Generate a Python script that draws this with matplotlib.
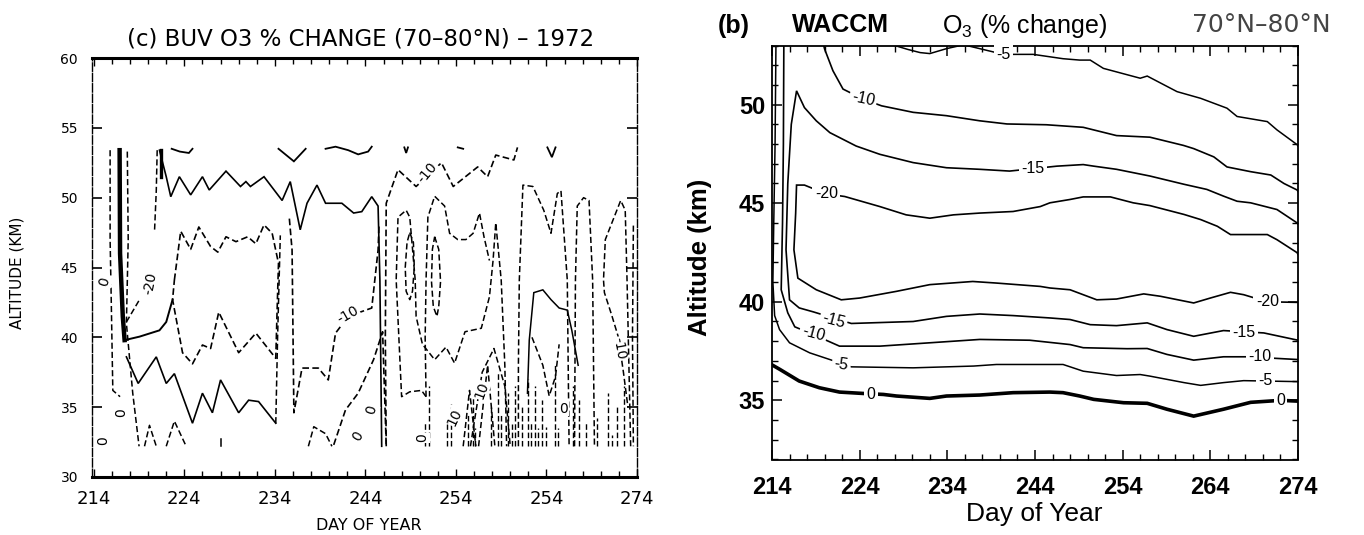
import matplotlib
matplotlib.use("Agg")
import matplotlib.pyplot as plt
from matplotlib.ticker import MultipleLocator, FixedLocator, FixedFormatter

plt.rcParams['mathtext.fontset'] = 'custom'
plt.rcParams['mathtext.rm'] = 'Liberation Sans'
plt.rcParams['mathtext.it'] = 'Liberation Sans:italic'
plt.rcParams['mathtext.bf'] = 'Liberation Sans:bold'

# ======================= DATA =======================
# ---------- Panel (c): BUV O3 % change, 1972 ----------
buv_xticks = [214, 224, 234, 244, 254, 264, 274]
buv_xticklabels = ["214", "224", "234", "244", "254", "254", "274"]
buv_yticks = [30, 35, 40, 45, 50, 55, 60]

buv_top1_day = [222.6, 223.5, 224.5, 224.9]
buv_top1_alt = [53.5, 53.3, 53.2, 53.5]
buv_top2_day = [234.4, 236.1, 237.4]
buv_top2_alt = [53.5, 52.6, 53.5]
buv_top3_day = [239.6, 240.7, 242.1, 243.2, 244.3, 244.7]
buv_top3_alt = [53.5, 53.65, 53.4, 53.1, 53.3, 53.65]
buv_top4_day = [248.3, 248.5, 248.7]
buv_top4_alt = [53.6, 53.2, 53.6]
buv_top5_day = [254.2, 254.8]
buv_top5_alt = [53.6, 53.5]
buv_top6_day = [264.1, 264.6, 265.0]
buv_top6_alt = [53.6, 52.9, 53.6]

buv_upper_day = [221.25, 222.0, 222.5, 223.45, 224.7, 226.0, 226.75, 228.6, 230.2, 230.8,
                 231.3, 232.8, 234.8, 235.7, 236.8, 237.55, 238.65, 239.6, 241.4, 242.7,
                 243.6, 244.7, 245.4, 245.6, 245.8]
buv_upper_alt = [53.4, 51.5, 50.07, 51.5, 50.2, 51.5, 50.55, 51.9, 50.8, 51.15,
                 50.8, 51.5, 49.8, 51.15, 47.7, 49.6, 50.9, 49.6, 49.6, 48.9,
                 49.0, 50.07, 49.4, 44.1, 32.2]

buv_upper2_day = [246.3, 246.2, 246.3, 247.6, 249.6, 252.4, 253.7, 256.4, 257.5, 258.4, 260.4, 260.8]
buv_upper2_alt = [32.2, 40.0, 49.6, 52.0, 50.8, 52.5, 50.8, 52.2, 51.5, 53.05, 52.7, 53.6]

buv_loop20_day = [222.9, 223.6, 224.7, 225.6, 226.9, 227.7, 228.6, 229.7, 231.0, 231.9, 232.8,
                  233.7, 234.4, 234.25, 234.1, 231.9, 230.0, 227.8, 226.9, 226.0, 224.9,
                  223.8, 222.7, 222.9]
buv_loop20_alt = [44.1, 47.6, 46.3, 47.9, 46.5, 46.1, 47.2, 46.85, 47.2, 46.7, 48.05,
                  47.45, 45.3, 42.0, 38.5, 40.3, 38.9, 41.8, 39.2, 39.45, 38.1,
                  38.9, 42.7, 44.1]

buv_m20_day = [217.4, 219.05, 221.25, 222.0, 222.7]
buv_m20_alt = [39.8, 40.05, 40.5, 41.1, 42.7]
buv_m20b_day = [217.6, 219.05]
buv_m20b_alt = [41.1, 42.7]

buv_lower_day = [217.6, 218.9, 220.9, 222.0, 222.9, 224.9, 226.0, 227.1, 228.0, 230.0,
                 231.1, 232.2, 234.1]
buv_lower_alt = [38.6, 36.7, 38.6, 36.7, 37.4, 33.85, 36.0, 34.6, 36.95, 34.6,
                 35.5, 35.4, 33.85]
buv_v1_day = [234.1, 234.3, 234.6]
buv_v1_alt = [33.85, 40.0, 47.3]

buv_m10_day = [235.6, 235.9, 236.1, 237.0, 238.8, 239.9, 240.7, 242.1, 244.7, 245.4, 245.5]
buv_m10_alt = [48.5, 46.25, 34.6, 37.8, 37.8, 36.95, 40.3, 41.5, 42.1, 46.25, 48.0]

buv_bump_day = [237.7, 238.3, 239.6, 240.3]
buv_bump_alt = [32.2, 33.6, 33.1, 32.2]
buv_rise_day = [240.5, 241.8, 243.2, 244.9, 245.9, 246.3]
buv_rise_alt = [32.3, 34.8, 36.0, 38.4, 40.4, 32.2]

buv_thick_day = [216.85, 216.9, 217.2, 217.4]
buv_thick_alt = [53.4, 46.0, 41.5, 39.8]
buv_va_day = [215.8, 215.8, 215.9, 216.1, 216.9]
buv_va_alt = [53.4, 47.0, 43.6, 36.2, 35.75]
buv_vb_day = [217.7, 217.8, 217.6, 218.3, 219.0]
buv_vb_alt = [53.3, 47.0, 41.0, 36.0, 32.2]
buv_vc_day = [221.0, 220.9, 220.7]
buv_vc_alt = [53.4, 50.5, 47.5]
buv_vc2_day = [221.4, 221.4]
buv_vc2_alt = [53.4, 51.5]
buv_b1_day = [219.6, 220.15, 220.9]
buv_b1_alt = [32.2, 33.7, 32.2]
buv_b2_day = [222.0, 222.9, 224.2]
buv_b2_alt = [32.2, 34.0, 32.2]
buv_b3_day = [228.0, 228.0]
buv_b3_alt = [32.2, 32.7]

buv_ra_day = [250.7, 250.2, 248.9, 248.0, 247.4, 247.6, 248.5, 248.9, 249.5, 249.6, 250.3,
              251.65, 252.9, 253.85, 255.0, 256.8, 257.7, 258.1, 258.4, 259.0, 259.4, 259.6]
buv_ra_alt = [35.75, 36.2, 36.1, 35.75, 44.1, 48.6, 49.1, 48.6, 44.1, 41.5, 39.5,
              38.4, 39.3, 38.15, 40.4, 40.65, 42.9, 45.5, 48.2, 44.1, 38.0, 32.2]
buv_rb_day = [250.7, 250.6, 250.7, 250.9, 251.65, 252.75, 253.3, 254.2, 255.1, 255.9, 256.6,
              257.1, 257.7]
buv_rb_alt = [35.75, 40.0, 44.1, 48.6, 50.1, 49.4, 47.45, 47.0, 47.0, 47.45, 48.9,
              47.2, 45.5]
buv_e1_day = [248.9, 249.3, 249.4, 249.2, 248.9, 248.5, 248.4, 248.6, 248.9]
buv_e1_alt = [47.5, 46.8, 45.0, 43.3, 42.7, 43.3, 45.0, 46.8, 47.5]
buv_e2_day = [251.65, 252.1, 252.3, 252.1, 251.9, 251.5, 251.3, 251.4, 251.65]
buv_e2_alt = [47.2, 46.3, 44.0, 42.2, 41.5, 42.2, 44.0, 46.3, 47.2]
buv_g_day = [260.9, 260.9, 261.0, 261.4, 262.5, 263.7, 264.5, 265.2, 265.6, 266.3, 266.4, 266.5]
buv_g_alt = [32.2, 38.0, 44.1, 50.9, 50.8, 49.1, 47.45, 50.3, 50.5, 44.1, 38.0, 32.2]
buv_h_day = [267.1, 267.2, 267.4, 268.1, 268.7, 269.1, 269.2, 269.3]
buv_h_alt = [32.2, 44.1, 49.4, 50.0, 49.8, 44.1, 38.0, 32.2]
buv_i_day = [273.3, 272.9, 272.7, 272.2, 270.5, 270.3, 270.4, 271.2, 271.95, 272.5, 273.0]
buv_i_alt = [32.2, 44.1, 49.1, 49.8, 47.0, 44.1, 43.2, 41.6, 40.0, 37.5, 35.0]
buv_j_day = [261.9, 262.1, 262.6, 263.6, 264.5, 265.4, 266.3, 266.8, 267.5]
buv_j_alt = [36.0, 39.8, 43.2, 43.4, 42.7, 42.1, 41.95, 40.5, 38.0]
buv_vv_day = [262.4, 263.6, 264.3, 265.0, 265.4]
buv_vv_alt = [40.0, 38.0, 35.8, 37.2, 39.5]
buv_p1_day = [254.8, 255.5, 256.2]
buv_p1_alt = [32.2, 36.2, 32.2]
buv_p2_day = [256.5, 257.5, 258.3]
buv_p2_alt = [32.2, 38.0, 32.2]
buv_p3_day = [255.6, 256.9, 258.2, 259.4, 260.0]
buv_p3_alt = [32.2, 37.5, 39.2, 36.5, 32.2]
buv_edge_day = [273.6, 273.5, 273.6]
buv_edge_alt = [48.0, 40.0, 32.2]

buv_hatch_day = [250.6, 251.0, 253.0, 253.4, 255.3, 255.9, 256.1, 257.9, 258.6, 259.0, 259.8,
                 260.2, 260.5, 261.3, 262.0, 262.3, 262.7, 263.1, 263.5, 264.0, 264.9,
                 265.3, 266.9, 267.6, 268.4, 269.6, 270.8, 271.2, 271.8, 272.6]
buv_hatch_top = [34.0, 36.5, 33.8, 35.2, 34.5, 36.0, 33.5, 35.0, 37.5, 34.5, 36.0,
                 33.8, 36.5, 35.0, 37.0, 34.0, 36.5, 33.5, 35.5, 33.6, 38.0,
                 33.5, 36.5, 35.5, 34.0, 34.2, 36.0, 33.0, 35.0, 36.5]
buv_hatch_base = 32.2

buv_label_text = ["0", "-20", "-10", "-10", "0", "0", "0", "0", "0", "10", "10", "0", "-10"]
buv_label_day = [215.2, 220.2, 242.1, 250.9, 217.0, 215.0, 243.2, 244.7, 250.3, 253.9, 256.8, 265.9, 272.0]
buv_label_alt = [44.0, 43.9, 41.6, 51.8, 34.6, 32.6, 32.9, 34.8, 32.8, 34.3, 36.2, 34.9, 39.2]
buv_label_rot = [75, 80, 30, 50, 90, 90, 60, 75, 90, 65, 70, 0, -80]

# ---------- Panel (b): WACCM O3 % change ----------
waccm_xticks = [214, 224, 234, 244, 254, 264, 274]
waccm_yticks = [35, 40, 45, 50]

waccm_c0_day = [214.0, 214.9, 217.1, 219.4, 221.7, 224.4, 226.7, 228.2, 232.0, 233.9, 237.7, 241.5,
                245.7, 247.2, 249.1, 250.7, 254.1, 256.8, 259.05, 262.1, 265.5, 268.6, 272.0, 274.0]
waccm_c0_alt = [36.8, 36.57, 35.98, 35.64, 35.42, 35.35, 35.3, 35.22, 35.1, 35.22, 35.27, 35.39,
                35.42, 35.39, 35.22, 35.05, 34.88, 34.85, 34.55, 34.2, 34.55, 34.9, 35.0, 34.96]

waccm_m5a_day = [214.45, 214.35, 214.2, 214.1, 214.3, 214.86, 216.0, 218.3, 220.6, 223.05, 230.1,
                 237.0, 239.6, 245.7, 247.2, 249.5, 253.3, 256.0, 257.1, 261.0, 262.9, 265.5,
                 267.8, 274.0]
waccm_m5a_alt = [53.0, 48.0, 44.0, 41.0, 39.3, 38.59, 37.92, 37.41, 37.07, 36.7, 36.65,
                 36.74, 36.82, 36.82, 36.82, 36.48, 36.26, 36.31, 36.23, 35.9, 35.76, 35.9,
                 36.0, 35.95]
waccm_m5b_day = [228.0, 229.5, 230.9, 232.0, 233.9, 235.5, 236.2, 237.7, 240.4, 243.8, 247.2,
                 249.1, 250.3, 251.8, 256.0, 256.8, 260.2, 262.9, 265.9, 267.05, 270.5, 271.6,
                 273.9, 274.0]
waccm_m5b_alt = [53.0, 52.8, 52.64, 52.59, 52.84, 53.0, 53.0, 52.84, 52.55, 52.55, 52.33,
                 52.26, 52.26, 51.84, 51.34, 51.45, 50.66, 50.32, 49.82, 49.4, 49.14, 48.72,
                 47.97, 47.9]

waccm_m10a_day = [215.35, 215.3, 215.2, 215.05, 215.8, 216.6, 218.7, 221.7, 226.3, 232.0, 237.7,
                  243.4, 248.0, 249.5, 254.5, 256.8, 259.05, 262.1, 265.5, 268.2, 274.0]
waccm_m10a_alt = [53.0, 48.0, 44.0, 40.61, 39.44, 38.73, 38.34, 37.75, 37.75, 37.92, 38.09,
                  38.05, 37.83, 37.67, 37.62, 37.63, 37.33, 37.04, 37.21, 37.21, 37.07]
waccm_m10b_day = [219.9, 220.0, 220.95, 222.1, 224.4, 226.5, 230.1, 233.9, 237.7, 240.8, 245.3,
                  249.5, 253.3, 257.1, 260.95, 262.1, 264.4, 265.9, 268.6, 270.9, 272.4, 273.9, 274.0]
waccm_m10b_alt = [53.0, 52.82, 51.72, 50.79, 50.28, 49.94, 49.61, 49.44, 49.18, 49.02, 48.98,
                  48.85, 48.43, 48.35, 47.93, 47.77, 47.35, 46.84, 46.6, 46.43, 46.0, 45.67, 45.6]

waccm_m15_day = [274.0, 270.1, 265.5, 262.1, 259.05, 256.8, 253.3, 250.3, 248.0, 245.7, 241.5,
                 237.7, 233.9, 230.1, 223.05, 218.7, 217.1, 216.0, 215.6, 215.8, 216.2, 216.8,
                 217.7, 219.05, 220.6, 223.6, 226.3, 230.1, 233.9, 237.7, 241.1, 246.5, 249.5,
                 250.7, 253.3, 257.1, 261.0, 263.6, 265.5, 267.05, 268.6, 271.6, 273.9, 274.0]
waccm_m15_alt = [38.05, 38.42, 38.54, 38.25, 38.59, 38.93, 38.79, 38.84, 39.1, 39.18, 39.3,
                 39.38, 39.26, 39.0, 38.9, 39.49, 39.69, 40.1, 42.64, 46.0, 49.0, 50.7,
                 49.85, 49.18, 48.58, 47.9, 47.48, 47.06, 46.8, 46.72, 46.63, 46.88, 46.96,
                 46.88, 46.72, 46.38, 45.96, 45.7, 45.36, 45.1, 45.02, 44.68, 44.0, 43.95]

waccm_m20_day = [274.0, 270.5, 267.8, 266.3, 264.0, 262.1, 258.3, 256.4, 253.3, 251.05, 248.0,
                 245.7, 244.6, 239.6, 236.9, 232.0, 228.2, 224.0, 221.9, 219.05, 216.95, 216.5,
                 216.7, 216.8, 217.7, 220.2, 222.3, 226.3, 229.3, 232.0, 234.7, 237.7, 241.5,
                 244.6, 245.7, 248.0, 249.5, 252.6, 255.2, 257.1, 261.0, 262.9, 264.8, 266.3,
                 270.5, 271.6, 273.9, 274.0]
waccm_m20_alt = [39.97, 40.0, 40.36, 40.48, 40.19, 39.94, 40.28, 40.4, 40.14, 40.1, 40.61,
                 40.7, 40.78, 40.95, 41.03, 40.87, 40.53, 40.19, 40.1, 40.61, 41.2, 42.64,
                 44.5, 45.92, 45.92, 45.47, 45.34, 44.83, 44.41, 44.24, 44.41, 44.5, 44.58,
                 44.83, 45.02, 45.19, 45.32, 45.32, 45.02, 44.88, 44.43, 44.17, 43.83, 43.41,
                 43.41, 43.15, 42.49, 42.4]

waccm_label_text = ["0", "0", "-5", "-5", "-5", "-10", "-10", "-10", "-15", "-15", "-15", "-20", "-20"]
waccm_label_day = [225.3, 272.0, 221.9, 240.4, 270.3, 218.7, 224.4, 269.7, 221.0, 243.8, 267.8, 220.2, 270.5]
waccm_label_alt = [35.32, 35.0, 36.8, 52.55, 36.0, 38.4, 50.3, 37.21, 39.05, 46.75, 38.45, 45.5, 40.0]
waccm_label_rot = [0, 0, -8, 0, 0, -15, -12, 0, -15, 0, 0, 0, 0]

# ======================= FIGURE =======================
W, H = 1364, 535
fig = plt.figure(figsize=(W / 100, H / 100), dpi=100)


def px_axes(x0, y0, x1, y1):
    return fig.add_axes([x0 / W, 1 - y1 / H, (x1 - x0) / W, (y1 - y0) / H])


# ---------------- Left panel ----------------
axL = px_axes(92, 58, 637, 477)
axL.set_xlim(213.8, 274.0)
axL.set_ylim(30, 60)

solid = '-'
dashed = (0, (4, 2))
buv_lines = [
    (buv_top1_day, buv_top1_alt, solid, 1.3),
    (buv_top2_day, buv_top2_alt, solid, 1.3),
    (buv_top3_day, buv_top3_alt, solid, 1.3),
    (buv_top4_day, buv_top4_alt, solid, 1.3),
    (buv_top5_day, buv_top5_alt, solid, 1.3),
    (buv_top6_day, buv_top6_alt, solid, 1.3),
    (buv_upper_day, buv_upper_alt, solid, 1.2),
    (buv_upper2_day, buv_upper2_alt, dashed, 1.2),
    (buv_loop20_day, buv_loop20_alt, dashed, 1.2),
    (buv_m20_day, buv_m20_alt, solid, 1.4),
    (buv_m20b_day, buv_m20b_alt, dashed, 1.1),
    (buv_lower_day, buv_lower_alt, solid, 1.2),
    (buv_v1_day, buv_v1_alt, dashed, 1.1),
    (buv_m10_day, buv_m10_alt, dashed, 1.2),
    (buv_bump_day, buv_bump_alt, dashed, 1.1),
    (buv_rise_day, buv_rise_alt, dashed, 1.2),
    (buv_thick_day, buv_thick_alt, solid, 3.2),
    (buv_va_day, buv_va_alt, dashed, 1.1),
    (buv_vb_day, buv_vb_alt, dashed, 1.1),
    (buv_vc_day, buv_vc_alt, dashed, 1.1),
    (buv_vc2_day, buv_vc2_alt, solid, 2.4),
    (buv_b1_day, buv_b1_alt, dashed, 1.1),
    (buv_b2_day, buv_b2_alt, dashed, 1.1),
    (buv_b3_day, buv_b3_alt, solid, 1.1),
    (buv_ra_day, buv_ra_alt, dashed, 1.1),
    (buv_rb_day, buv_rb_alt, dashed, 1.1),
    (buv_e1_day, buv_e1_alt, dashed, 1.1),
    (buv_e2_day, buv_e2_alt, dashed, 1.1),
    (buv_g_day, buv_g_alt, dashed, 1.1),
    (buv_h_day, buv_h_alt, dashed, 1.1),
    (buv_i_day, buv_i_alt, dashed, 1.1),
    (buv_j_day, buv_j_alt, solid, 1.1),
    (buv_vv_day, buv_vv_alt, dashed, 1.1),
    (buv_p1_day, buv_p1_alt, dashed, 1.1),
    (buv_p2_day, buv_p2_alt, dashed, 1.1),
    (buv_p3_day, buv_p3_alt, dashed, 1.1),
    (buv_edge_day, buv_edge_alt, dashed, 1.1),
]
for d, a, ls, lw in buv_lines:
    axL.plot(d, a, color='black', linestyle=ls, linewidth=lw, solid_joinstyle='miter')
axL.vlines(buv_hatch_day, buv_hatch_base, buv_hatch_top, colors='black',
           linestyles=[dashed], linewidth=1.0)

for s, d, a, r in zip(buv_label_text, buv_label_day, buv_label_alt, buv_label_rot):
    axL.text(d, a, s, ha='center', va='center', rotation=r, fontsize=10,
             family='DejaVu Sans', zorder=5,
             bbox=dict(boxstyle='square,pad=0.05', fc='white', ec='none'))

axL.xaxis.set_major_locator(FixedLocator(buv_xticks))
axL.xaxis.set_major_formatter(FixedFormatter(buv_xticklabels))
axL.xaxis.set_minor_locator(MultipleLocator(2))
axL.yaxis.set_major_locator(FixedLocator(buv_yticks))
axL.yaxis.set_minor_locator(FixedLocator([]))
axL.tick_params(axis='x', which='major', direction='in', length=6, width=1.0,
                top=True, bottom=True, labelsize=13, pad=9)
axL.tick_params(axis='x', which='minor', direction='in', length=4, width=1.0,
                top=True, bottom=True)
axL.tick_params(axis='y', which='major', direction='in', length=7, width=1.2,
                left=True, right=True, labelsize=10, pad=10)
for lab in axL.get_xticklabels() + axL.get_yticklabels():
    lab.set_family('DejaVu Sans')
axL.spines['top'].set_linewidth(2.2)
axL.spines['bottom'].set_linewidth(2.2)
axL.spines['left'].set_linewidth(1.0)
axL.spines['right'].set_linewidth(1.0)
axL.spines['left'].set_linestyle((0, (6, 1.5)))
axL.spines['right'].set_linestyle((0, (6, 1.5)))

axL.text(0.4936, 1.0465, "(c) BUV O3 % CHANGE (70\u201380\u00b0N) \u2013 1972",
         transform=axL.transAxes, ha='center', va='center', fontsize=16.5,
         family='DejaVu Sans')
axL.text(0.508, -0.1146, "DAY OF YEAR", transform=axL.transAxes, ha='center',
         va='center', fontsize=11.5, family='DejaVu Sans')
axL.text(-0.1376, 0.487, "ALTITUDE (KM)", transform=axL.transAxes, ha='center',
         va='center', rotation=90, fontsize=11, family='DejaVu Sans')

# ---------------- Right panel ----------------
axR = px_axes(772, 45.5, 1298, 459.5)
axR.set_xlim(214, 274)
axR.set_ylim(32, 53)

waccm_lines = [
    (waccm_c0_day, waccm_c0_alt, 2.6),
    (waccm_m5a_day, waccm_m5a_alt, 1.1),
    (waccm_m5b_day, waccm_m5b_alt, 1.1),
    (waccm_m10a_day, waccm_m10a_alt, 1.2),
    (waccm_m10b_day, waccm_m10b_alt, 1.2),
    (waccm_m15_day, waccm_m15_alt, 1.2),
    (waccm_m20_day, waccm_m20_alt, 1.2),
]
for d, a, lw in waccm_lines:
    axR.plot(d, a, color='black', linewidth=lw, solid_joinstyle='miter')

for s, d, a, r in zip(waccm_label_text, waccm_label_day, waccm_label_alt, waccm_label_rot):
    axR.text(d, a, s, ha='center', va='center', rotation=r, fontsize=11.5,
             family='Liberation Sans', zorder=5,
             bbox=dict(boxstyle='square,pad=0.15', fc='white', ec='none'))

axR.xaxis.set_major_locator(FixedLocator(waccm_xticks))
axR.xaxis.set_minor_locator(MultipleLocator(2))
axR.yaxis.set_major_locator(FixedLocator(waccm_yticks))
axR.yaxis.set_minor_locator(MultipleLocator(1))
axR.tick_params(axis='both', which='major', direction='in', length=7, width=1.1,
                top=True, bottom=True, left=True, right=True, labelsize=17)
axR.tick_params(axis='both', which='minor', direction='in', length=4, width=1.0,
                top=True, bottom=True, left=True, right=True)
axR.tick_params(axis='x', which='major', pad=12)
axR.tick_params(axis='y', which='major', pad=5)
for lab in axR.get_xticklabels() + axR.get_yticklabels():
    lab.set_family('Liberation Sans')
    lab.set_fontweight('bold')
for sp in axR.spines.values():
    sp.set_linewidth(1.3)

axR.text(0.498, -0.132, "Day of Year", transform=axR.transAxes, ha='center',
         va='center', fontsize=19, family='Liberation Sans')
axR.text(-0.137, 0.489, "Altitude (km)", transform=axR.transAxes, ha='center',
         va='center', rotation=90, fontsize=18.5, family='Liberation Sans',
         fontweight='bold')

ty = 1 - 25.5 / H
fig.text(718 / W, ty, "(b)", ha='left', va='center', fontsize=18,
         family='Liberation Sans', fontweight='bold')
fig.text(792 / W, ty, "WACCM", ha='left', va='center', fontsize=18,
         family='Liberation Sans', fontweight='bold')
fig.text(942 / W, ty, "O$_3$ (% change)", ha='left', va='center', fontsize=18,
         family='Liberation Sans')
fig.text(1192 / W, ty, "70\u00b0N\u201380\u00b0N", ha='left', va='center', fontsize=18,
         family='DejaVu Sans', color='#444444')

fig.savefig("out.png", dpi=100)
